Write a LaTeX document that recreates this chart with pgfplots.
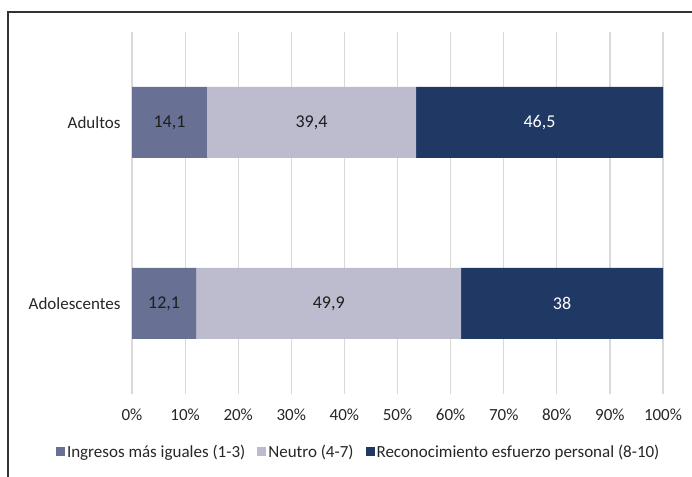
\documentclass[border=0pt]{standalone}
\usepackage{pgfplots}
\pgfplotsset{compat=1.18}
\usepackage{fontspec}
\setmainfont{Carlito}
\definecolor{c1}{RGB}{104,112,148}
\definecolor{c2}{RGB}{189,187,206}
\definecolor{c3}{RGB}{32,56,100}
\definecolor{gridc}{RGB}{217,217,217}
\definecolor{txt}{RGB}{38,38,38}
\definecolor{lbl}{RGB}{30,30,30}
\begin{document}
\begin{tikzpicture}[x=1pt,y=1pt]
\useasboundingbox (0,0) rectangle (692,476);
\draw[line width=1.3pt, color=black!80] (8,-5) -- (8,464) -- (700,464);
\begin{axis}[at={(132pt,82pt)}, anchor=south west, scale only axis,
  width=531pt, height=362pt,
  xbar stacked, bar width=71pt,
  xmin=0, xmax=100, ymin=-0.5, ymax=1.5,
  ytick={0,1}, yticklabels={Adolescentes,Adultos},
  xtick={0,10,...,100},
  xticklabel={\pgfmathprintnumber{\tick}\%},
  /pgf/number format/assume math mode=true,
  axis line style={draw=none}, major tick length=0pt,
  xmajorgrids, grid style={gridc, line width=1.2pt},
  tick label style={font=\fontsize{17}{20}\selectfont, text=txt},
  xticklabel style={yshift=-11pt},
  yticklabel style={xshift=-8pt},
  legend style={at={(0.427,-0.16)}, anchor=center, draw=none, fill=none,
    legend columns=-1, font=\fontsize{17}{20}\selectfont, text=txt,
    /tikz/every even column/.append style={column sep=10pt}},
  legend image code/.code={\fill[#1] (0pt,-4.5pt) rectangle (9pt,4.5pt);},
  nodes near coords, point meta=explicit symbolic,
  every node near coord/.append style={font=\fontsize{18}{21}\selectfont, anchor=center},
]
\addplot[fill=c1, draw=none, every node near coord/.append style={text=lbl}]
  coordinates {(12.1,0) [12,1] (14.1,1) [14,1]};
\addplot[fill=c2, draw=none, every node near coord/.append style={text=lbl}]
  coordinates {(49.9,0) [49,9] (39.4,1) [39,4]};
\addplot[fill=c3, draw=none, every node near coord/.append style={text=white}]
  coordinates {(38,0) [38] (46.5,1) [46,5]};
\legend{Ingresos más iguales (1-3), Neutro (4-7), Reconocimiento esfuerzo personal (8-10)}
\end{axis}
\end{tikzpicture}
\end{document}
